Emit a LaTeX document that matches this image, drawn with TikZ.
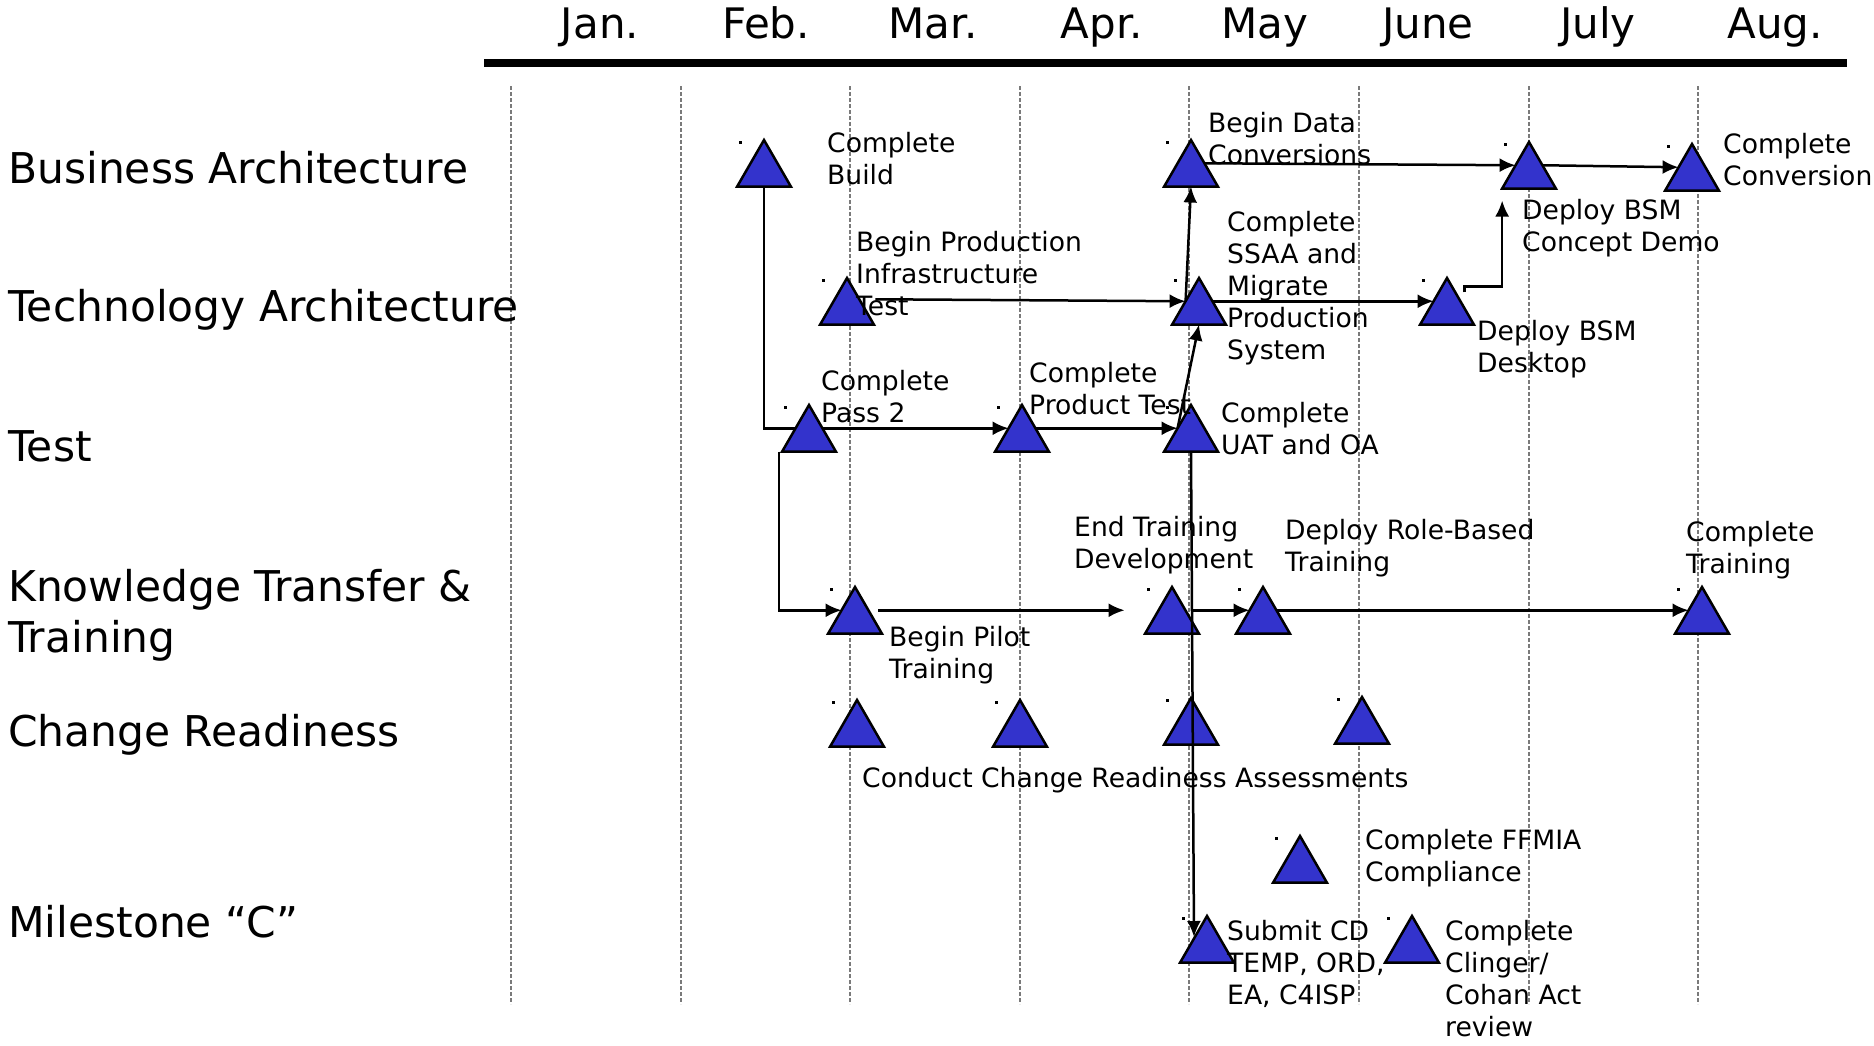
\documentclass[tikz,border=0pt]{standalone}
\usepackage{fontspec}
\setmainfont{DejaVu Sans}
\usepackage{xcolor}
\usepackage{tikz}
\usetikzlibrary{arrows.meta,calc,positioning,shapes.geometric,backgrounds}
\definecolor{msblue}{HTML}{3333CC}
\definecolor{vgrey}{HTML}{7A7A7A}

\begin{document}
\begin{tikzpicture}[
    x=1pt, y=-1pt,
    mile/.style={regular polygon, regular polygon sides=3, minimum size=62pt,
        inner sep=0, outer sep=0, draw=black, line width=2.5pt, fill=msblue},
    lbl/.style={anchor=north west, inner sep=0, align=left, font=\fontsize{26.6}{32}\selectfont},
    rowlbl/.style={anchor=base west, inner sep=0, align=left, font=\fontsize{42.4}{51}\selectfont},
    mon/.style={anchor=base, inner sep=0, font=\fontsize{42}{51}\selectfont},
    vline/.style={draw=vgrey, line width=2pt, dash pattern=on 4pt off 2pt},
    conn/.style={draw, line width=2.5pt, -{Latex[length=16pt,width=14pt]}}]
\useasboundingbox (0,0) rectangle (1874,1045);

% months and time axis
\foreach \mx/\mt in {600/Jan., 766/Feb., 933/Mar., 1102/Apr., 1265/May, 1428/June, 1598/July, 1775/Aug.}
    \node[mon] (M\mt) at (\mx,38) {\mt};
\draw[line width=7.3pt] (484,63) -- (1847,63);

% rows
\node[rowlbl] (RBA) at (8,183) {Business Architecture};
\node[rowlbl] (RTA) at (8,321) {Technology Architecture};
\node[rowlbl] (RTS) at (8,461) {Test};
\node[rowlbl, anchor=north west] (RKT) at (8,569) {Knowledge Transfer \&\\Training};
\node[rowlbl] (RCR) at (8,746) {Change Readiness};
\node[rowlbl] (RMC) at (8,937) {Milestone “C”};

% milestones
\foreach \nm/\px/\py in {BLD/764/140, BDC/1191/140, CDM/1529/142, CCV/1692/144,
        BPI/847/278, SSA/1199/278, DBD/1447/278,
        CP2/809/405, CPT/1022/405, UAT/1191/405,
        BPT/855/587, ETD/1172/587, DRB/1263/587, CTR/1702/587,
        CR1/857/700, CR2/1020/700, CR3/1191/698, CR4/1362/697,
        FFM/1300/836, SCD/1207/916, CCA/1412/916}{
    \node[mile, anchor=corner 1] (\nm) at (\px,\py) {};
    \fill ([shift={(-25pt,-1pt)}]\nm.corner 1) rectangle ++(3,3);
}

\begin{scope}[on background layer]
    \foreach \k in {0,...,7}
        \draw[vline] (511+169.6*\k,86) -- (511+169.6*\k,1004);
    \draw[conn] (BLD.south) |- (CPT.side 1);
\end{scope}

% links
\draw[conn] (BDC.side 3) -- (CDM.side 1);
\draw[conn] (CDM.side 3) -- (CCV.side 1);
\draw[conn] ([shift={(15pt,2pt)}]BPI.side 3) -- (SSA.side 1);
\draw[conn] (SSA.side 3) -- (DBD.side 1);
\draw[conn] ([shift={(4pt,9pt)}]DBD.side 3) -- ++(0,-6) -| ([yshift=-12pt]CDM.corner 2);
\draw[conn] (SSA.side 1) -- (BDC.south);
\draw[conn] (UAT.side 1) -- (SSA.south);
\draw[conn] (CPT.side 3) -- (UAT.side 1);
\draw[conn] ([xshift=-3pt]CP2.corner 2) |- (BPT.side 1);
\draw[conn] ([xshift=10pt]BPT.side 3) -- ([xshift=-34pt]ETD.side 1);
\draw[conn] ([xshift=8pt]ETD.side 3) -- (DRB.side 1);
\draw[conn] (DRB.side 3) -- (CTR.side 1);
\draw[conn] (UAT.south) -- ([shift={(-13pt,-21pt)}]SCD.corner 1);

% labels
\node[lbl] (BLDl) at (827,132) {Complete\\Build};
\node[lbl] (BDCl) at (1208,112) {Begin Data\\Conversions};
\node[lbl] (CCVl) at (1723,133) {Complete\\Conversion};
\node[lbl] (CDMl) at (1522,199) {Deploy BSM\\Concept Demo};
\node[lbl] (BPIl) at (856,231) {Begin Production\\Infrastructure\\Test};
\node[lbl] (SSAl) at (1227,211) {Complete\\SSAA and\\Migrate\\Production\\System};
\node[lbl] (DBDl) at (1477,320) {Deploy BSM\\Desktop};
\node[lbl] (CP2l) at (821,370) {Complete\\Pass 2};
\node[lbl] (CPTl) at (1029,362) {Complete\\Product Test};
\node[lbl] (UATl) at (1221,402) {Complete\\UAT and OA};
\node[lbl] (ETDl) at (1074,516) {End Training\\Development};
\node[lbl] (DRBl) at (1285,519) {Deploy Role-Based\\Training};
\node[lbl] (CTRl) at (1686,521) {Complete\\Training};
\node[lbl] (BPTl) at (889,626) {Begin Pilot\\Training};
\node[lbl] (CRAl) at (862,767) {Conduct Change Readiness Assessments};
\node[lbl] (FFMl) at (1365,829) {Complete FFMIA\\Compliance};
\node[lbl] (SCDl) at (1227,920) {Submit CD\\TEMP, ORD,\\EA, C4ISP};
\node[lbl] (CCAl) at (1445,920) {Complete\\Clinger/\\Cohan Act\\review};

\end{tikzpicture}
\end{document}
